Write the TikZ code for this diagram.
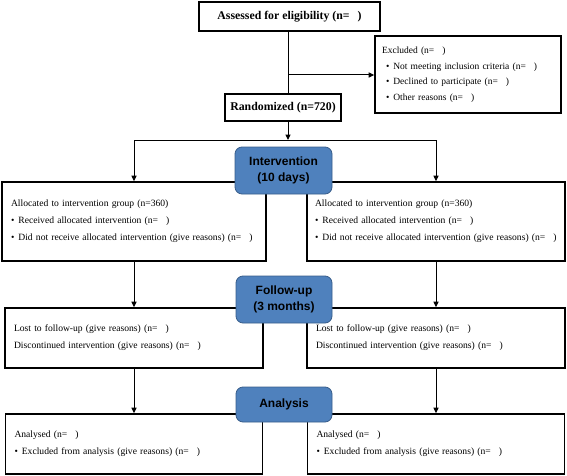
\documentclass[tikz,border=0pt]{standalone}
\usepackage{fontspec}
\setmainfont{Liberation Serif}
\newfontfamily\phasefont{Liberation Sans}
\usetikzlibrary{arrows.meta}
\definecolor{phasefill}{HTML}{4F81BD}
\definecolor{phaseline}{HTML}{385D8A}
\newcommand{\nblank}{(n=\hspace{8pt})}
\newcommand{\itm}{\textbullet\hspace{4pt}}
\begin{document}
\begin{tikzpicture}[x=1pt,y=-1pt,
  box/.style={draw,line width=1.6pt,fill=white,inner xsep=9pt,align=left,
    font=\fontsize{9.6}{17}\selectfont},
  headbox/.style={draw,line width=1.6pt,fill=white,align=center,
    font=\fontsize{11.8}{13}\selectfont\bfseries},
  phase/.style={draw=phaseline,line width=0.8pt,fill=phasefill,rounded corners=7pt,
    align=center,font=\phasefont\fontsize{12}{16}\selectfont\bfseries},
  flow/.style={line width=1pt,-{Triangle[length=5.5pt,width=5pt]}}]
\useasboundingbox (0,0) rectangle (567,476);

\node[headbox,minimum width=181pt,minimum height=29pt] (assess) at (289.5,16.5) {Assessed for eligibility \nblank};
\node[box,inner xsep=7pt,text width=172pt,minimum height=77pt,font=\fontsize{9.5}{15.5}\selectfont] (excl) at (468,74.5)
  {Excluded \nblank\\
   \hspace*{4pt}\itm Not meeting inclusion criteria \nblank\\
   \hspace*{4pt}\itm Declined to participate \nblank\\
   \hspace*{4pt}\itm Other reasons \nblank};
\node[headbox,minimum width=116pt,minimum height=27pt] (rand) at (283,107.5) {Randomized (n=720)};

\node[box,text width=246pt,minimum height=79pt] (allocL) at (134,221.5)
  {Allocated to intervention group (n=360)\\
   \itm Received allocated intervention \nblank\\
   \itm Did not receive allocated intervention (give reasons) \nblank};
\node[box,inner xsep=8pt,text width=242pt,minimum height=79pt] (allocR) at (436,221.5)
  {Allocated to intervention group (n=360)\\
   \itm Received allocated intervention \nblank\\
   \itm Did not receive allocated intervention (give reasons) \nblank};

\node[box,text width=240pt,minimum height=60pt] (lostL) at (134,338)
  {Lost to follow-up (give reasons) \nblank\\
   Discontinued intervention (give reasons) \nblank};
\node[box,text width=240pt,minimum height=60pt] (lostR) at (436,338)
  {Lost to follow-up (give reasons) \nblank\\
   Discontinued intervention (give reasons) \nblank};

\node[box,text width=239pt,minimum height=60pt] (analL) at (134,444)
  {Analysed \nblank\\
   \itm Excluded from analysis (give reasons) \nblank};
\node[box,text width=239pt,minimum height=60pt] (analR) at (436,444)
  {Analysed \nblank\\
   \itm Excluded from analysis (give reasons) \nblank};

\node[phase,minimum width=97pt,minimum height=47pt] (intv) at (283.5,170.5) {Intervention\\(10 days)};
\node[phase,minimum width=96pt,minimum height=47pt] (follow) at (284,299.5) {Follow-up\\(3 months)};
\node[phase,minimum width=96pt,minimum height=35pt] (anal) at (284,404.5) {Analysis};

\coordinate (split) at (288,75);
\coordinate (fork) at (288,140);
\draw[line width=1pt] (assess.south -| split) -- (rand.north -| split);
\draw[flow] (split) -- (split -| excl.west);
\draw[flow] (rand.south -| fork) -- (fork);
\draw[flow] (fork) -| (allocL.north);
\draw[flow] (fork) -| (allocR.north);
\draw[flow] (allocL) -- (lostL);
\draw[flow] (allocR) -- (lostR);
\draw[flow] (lostL) -- (analL);
\draw[flow] (lostR) -- (analR);

\end{tikzpicture}
\end{document}
